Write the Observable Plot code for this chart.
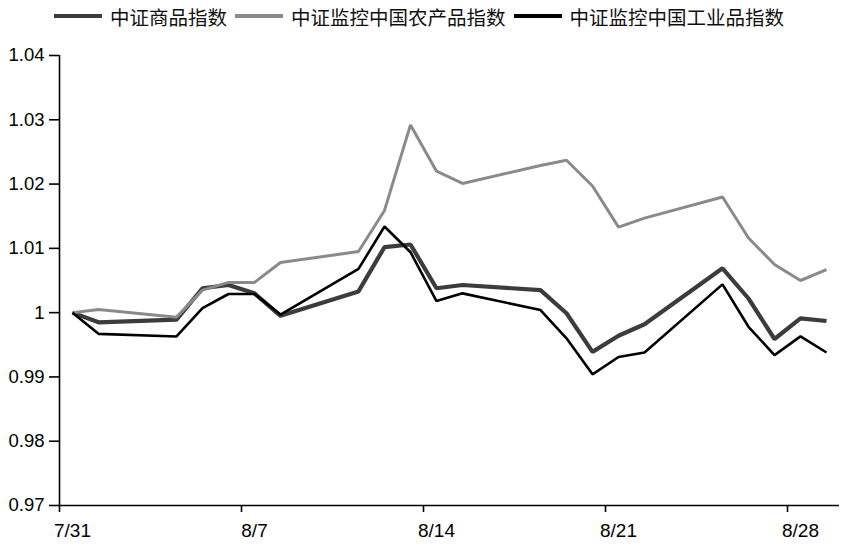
<!DOCTYPE html>
<html>
<head>
<meta charset="utf-8">
<script src="https://cdn.jsdelivr.net/npm/d3@7"></script>
<script src="https://cdn.jsdelivr.net/npm/@observablehq/plot@0.6"></script>
<style>
  html, body { margin: 0; padding: 0; background: #fff; }
  #wrap { width: 844px; height: 546px; position: relative; overflow: hidden; }
  #legend { height: 32px; display: flex; align-items: center; font-family: "Noto Sans CJK SC", sans-serif; font-size: 19.5px; color: #111; padding-left: 54px; box-sizing: border-box; }
  .item { display: flex; align-items: center; margin-right: 8px; }
  .sw { width: 48px; height: 0; margin-right: 8px; }
  svg { display: block; }
</style>
</head>
<body>
<div id="wrap">
  <div id="legend"></div>
  <div id="chart"></div>
</div>
<script>
const dates = ["2014-07-31","2014-08-01","2014-08-04","2014-08-05","2014-08-06","2014-08-07","2014-08-08",
  "2014-08-11","2014-08-12","2014-08-13","2014-08-14","2014-08-15","2014-08-18","2014-08-19","2014-08-20",
  "2014-08-21","2014-08-22","2014-08-25","2014-08-26","2014-08-27","2014-08-28","2014-08-29"];
const seriesNames = ["中证商品指数", "中证监控中国农产品指数", "中证监控中国工业品指数"];
const commodity = [1.0000, 0.9985, 0.9989, 1.0038, 1.0043, 1.0030, 0.9995, 1.0033, 1.0102, 1.0106, 1.0038,
  1.0043, 1.0035, 0.9999, 0.9939, 0.9964, 0.9982, 1.0069, 1.0022, 0.9959, 0.9991, 0.9987];
const agri = [1.0000, 1.0005, 0.9993, 1.0035, 1.0047, 1.0047, 1.0078, 1.0095, 1.0159, 1.0292, 1.0220,
  1.0201, 1.0229, 1.0237, 1.0197, 1.0133, 1.0147, 1.0180, 1.0116, 1.0075, 1.0050, 1.0067];
const industrial = [1.0000, 0.9967, 0.9963, 1.0007, 1.0029, 1.0029, 0.9997, 1.0068, 1.0134, 1.0094, 1.0018,
  1.0030, 1.0004, 0.9960, 0.9904, 0.9931, 0.9938, 1.0044, 0.9978, 0.9934, 0.9963, 0.9938];
const yTicks = [0.97, 0.98, 0.99, 1.00, 1.01, 1.02, 1.03, 1.04];
const xTickLabels = ["2014-07-31", "2014-08-07", "2014-08-14", "2014-08-21", "2014-08-28"];

const colors = ["#3c3c3c", "#8a8a8a", "#000000"];
const widths = [4.2, 3, 2.6];

const parse = d3.utcParse("%Y-%m-%d");
const noon = s => d3.utcHour.offset(parse(s), 12);
const allSeries = [commodity, agri, industrial];
const rows = [];
allSeries.forEach((vals, si) => vals.forEach((v, i) => rows.push({series: seriesNames[si], date: noon(dates[i]), value: v})));

const xDomain = [parse("2014-07-31"), parse("2014-08-30")];

const legend = document.getElementById("legend");
seriesNames.forEach((n, i) => {
  const it = document.createElement("div");
  it.className = "item";
  const sw = document.createElement("span");
  sw.className = "sw";
  sw.style.borderTop = `4px solid ${colors[i]}`;
  const t = document.createElement("span");
  t.textContent = n;
  it.appendChild(sw); it.appendChild(t);
  legend.appendChild(it);
});

const fmtY = d => String(+d.toFixed(2));
const fmtX = d => `${d.getUTCMonth() + 1}/${d.getUTCDate()}`;

const chart = Plot.plot({
  width: 844,
  height: 514,
  marginTop: 23,
  marginBottom: 41,
  marginLeft: 59,
  marginRight: 5,
  style: {fontFamily: "'Liberation Sans', Arial, sans-serif", fontSize: "18.5px", color: "#000", background: "#fff"},
  x: {type: "utc", domain: xDomain},
  y: {domain: [0.97, 1.04]},
  marks: [
    Plot.axisY({ticks: yTicks, tickFormat: fmtY, tickSize: 10, tickPadding: 5, label: null, strokeWidth: 1.6}),
    Plot.axisX({ticks: xTickLabels.map(parse), tickFormat: () => "", tickSize: 7, label: null, strokeWidth: 1.6}),
    Plot.axisX({ticks: xTickLabels.map(noon), tickFormat: fmtX, tickSize: 0, tickPadding: 18, label: null, fontSize: 19}),
    Plot.ruleX([xDomain[0]], {stroke: "#000", strokeWidth: 1.6}),
    Plot.ruleY([0.97], {stroke: "#000", strokeWidth: 1.6}),
    ...seriesNames.map((n, i) =>
      Plot.line(rows.filter(r => r.series === n), {x: "date", y: "value", stroke: colors[i], strokeWidth: widths[i], strokeLinejoin: "miter", strokeLinecap: "butt"})
    )
  ]
});
document.getElementById("chart").appendChild(chart);
</script>
</body>
</html>
